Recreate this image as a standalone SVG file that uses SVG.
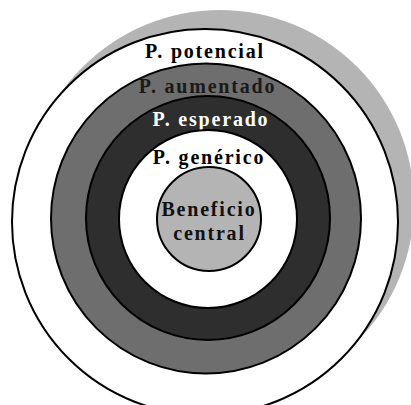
<svg xmlns="http://www.w3.org/2000/svg" width="411" height="405" viewBox="0 0 411 405">
<style>
.ring{stroke:#000;stroke-width:2}
.lbl{font-family:"Liberation Serif","Times New Roman",serif;font-weight:bold;font-size:20px;letter-spacing:1.8px;text-anchor:middle}
</style>
<rect width="411" height="405" fill="#fff"/>
<g id="shadow"><circle cx="220" cy="204" r="194" fill="#b4b4b4"/></g>
<g id="potencial"><circle class="ring" cx="205" cy="222" r="193" fill="#fff"/><text class="lbl" x="205" y="58" fill="#000">P. potencial</text></g>
<g id="aumentado"><circle class="ring" cx="206" cy="218.5" r="155" fill="#6e6e6e"/><text class="lbl" x="207.5" y="93" fill="#1a1a1a">P. aumentado</text></g>
<g id="esperado"><circle class="ring" cx="208" cy="218" r="122" fill="#2e2e2e"/><text class="lbl" x="211" y="126" fill="#fff">P. esperado</text></g>
<g id="generico"><circle class="ring" cx="208" cy="219" r="89" fill="#fff"/><text class="lbl" x="209" y="164" fill="#000">P. genérico</text></g>
<g id="central"><circle class="ring" cx="209" cy="219" r="52" fill="#b4b4b4"/><text class="lbl" x="209" y="216" fill="#111">Beneficio</text><text class="lbl" x="209.5" y="240" fill="#111">central</text></g>
<g id="connectors"/>
</svg>
